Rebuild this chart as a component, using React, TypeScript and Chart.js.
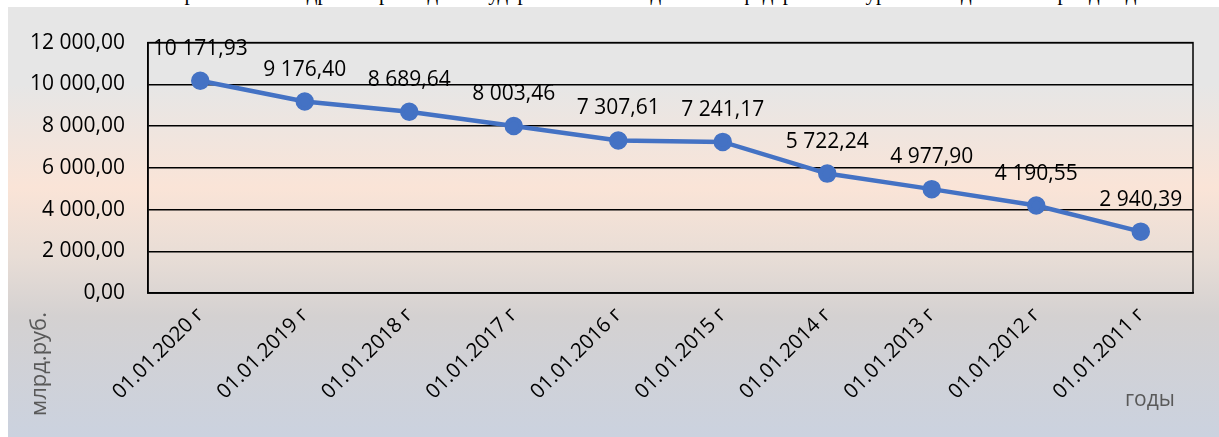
import React, { useEffect, useRef } from "react";
import { Chart, registerables } from "chart.js";

Chart.register(...registerables);

const categories = [
  "01.01.2020 г",
  "01.01.2019 г",
  "01.01.2018 г",
  "01.01.2017 г",
  "01.01.2016 г",
  "01.01.2015 г",
  "01.01.2014 г",
  "01.01.2013 г",
  "01.01.2012 г",
  "01.01.2011 г",
];
const values = [10171.93, 9176.4, 8689.64, 8003.46, 7307.61, 7241.17, 5722.24, 4977.9, 4190.55, 2940.39];
const yMin = 0;
const yMax = 12000;
const yStep = 2000;
const yAxisTitle = "млрд.руб.";
const xAxisTitle = "годы";
const headerText =
  "Рассмотрим более подробно расходы государственного бюджета на федеральном уровне за данный период в динамике.";

const FONT = "'Open Sans', 'Noto Sans', sans-serif";

function fmt(v: number): string {
  const [i, d] = v.toFixed(2).split(".");
  return i.replace(/\B(?=(\d{3})+(?!\d))/g, "\u00a0") + "," + d;
}

const decoPlugin = {
  id: "deco",
  beforeDatasetsDraw(chart: any) {
    const { ctx, chartArea } = chart;
    ctx.save();
    ctx.strokeStyle = "#000";
    ctx.lineWidth = 1.5;
    ctx.strokeRect(chartArea.left, chartArea.top, chartArea.right - chartArea.left, chartArea.bottom - chartArea.top);
    ctx.restore();
  },
  afterDatasetsDraw(chart: any) {
    const { ctx } = chart;
    const meta = chart.getDatasetMeta(0);
    ctx.save();
    ctx.font = `21px ${FONT}`;
    ctx.fillStyle = "#000";
    ctx.textAlign = "center";
    ctx.textBaseline = "middle";
    meta.data.forEach((el: any, i: number) => {
      ctx.fillText(fmt(values[i]), el.x, el.y - 32);
    });
    ctx.fillStyle = "#595959";
    ctx.font = `21px ${FONT}`;
    ctx.fillText(xAxisTitle, 1142, 393);
    ctx.font = `22px ${FONT}`;
    ctx.translate(32, 357);
    ctx.rotate(-Math.PI / 2);
    ctx.fillText(yAxisTitle, 0, 0);
    ctx.restore();
  },
};

export default function App() {
  const ref = useRef<HTMLCanvasElement>(null);
  useEffect(() => {
    if (!ref.current) return;
    const chart = new Chart(ref.current, {
      type: "line",
      data: {
        labels: categories,
        datasets: [
          {
            data: values,
            borderColor: "#4472C4",
            backgroundColor: "#4472C4",
            borderWidth: 4.5,
            pointRadius: 7,
            pointBackgroundColor: "#4472C4",
            pointBorderColor: "#4472C4",
            tension: 0,
          },
        ],
      },
      options: {
        animation: false,
        responsive: false,
        layout: { padding: { top: 35, right: 26, left: 0, bottom: 0 } },
        plugins: { legend: { display: false }, tooltip: { enabled: false }, title: { display: false } },
        scales: {
          x: {
            offset: true,
            grid: { display: false, drawTicks: false },
            border: { display: true, color: "#000", width: 1.5 },
            ticks: {
              color: "#000",
              font: { family: FONT, size: 20.5 },
              minRotation: 45,
              maxRotation: 45,
              autoSkip: false,
              padding: 10,
            },
            afterFit(scale: any) {
              scale.height = 144;
            },
          },
          y: {
            min: yMin,
            max: yMax,
            grid: { color: "#000", lineWidth: 1.5, drawTicks: false },
            border: { display: true, color: "#000", width: 1.5 },
            ticks: {
              stepSize: yStep,
              color: "#000",
              font: { family: FONT, size: 21 },
              padding: 23,
              callback: (v: any) => fmt(Number(v)),
            },
            afterFit(scale: any) {
              scale.width = 140;
            },
          },
        },
      },
      plugins: [decoPlugin],
    } as any);
    return () => chart.destroy();
  }, []);

  return (
    <div style={{ position: "absolute", left: 0, top: 0, width: 1219, height: 437, overflow: "hidden", background: "#fff" }}>
      <div
        style={{
          position: "absolute",
          left: 112,
          top: -17,
          width: 1105,
          fontFamily: "'Liberation Serif', serif",
          fontSize: 21,
          lineHeight: "21px",
          whiteSpace: "nowrap",
          textAlign: "justify",
          textAlignLast: "justify",
          color: "#000",
        }}
      >
        {headerText}
      </div>
      <div
        style={{
          position: "absolute",
          left: 8,
          top: 7,
          width: 1211,
          height: 430,
          background:
            "linear-gradient(to bottom, #e6e6e6 0%, #e6e6e6 18%, #fae4d7 42%, #e8ddd6 58%, #d4d1d1 72%, #cbd2df 100%)",
        }}
      >
        <canvas ref={ref} width={1211} height={430} style={{ display: "block" }} />
      </div>
    </div>
  );
}
